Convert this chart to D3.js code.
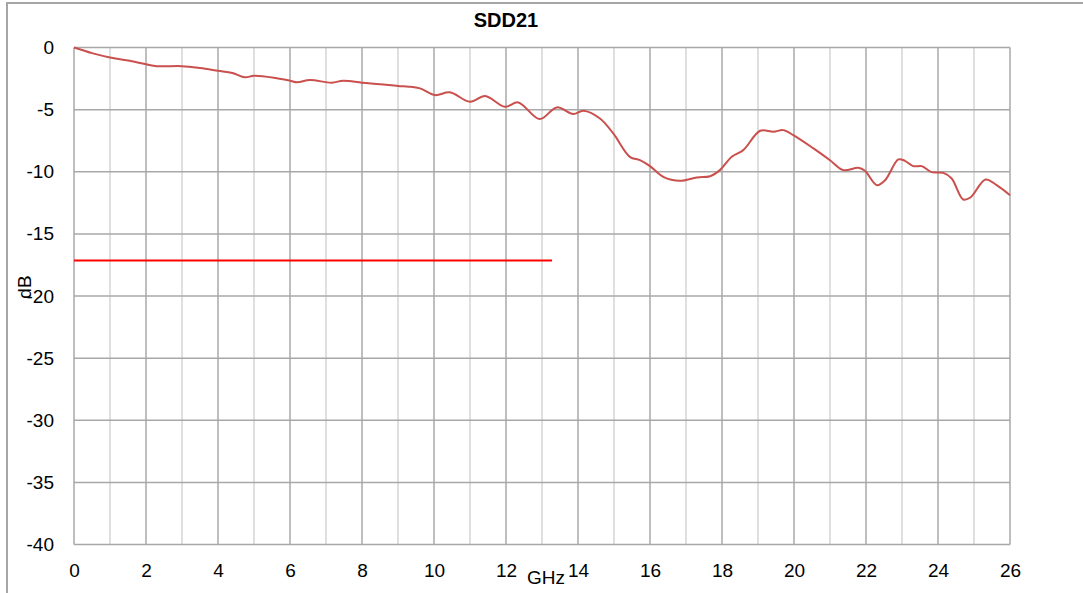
<!DOCTYPE html>
<html>
<head>
<meta charset="utf-8">
<script src="https://cdn.jsdelivr.net/npm/d3@7"></script>
<style>
  body { margin: 0; background: #fff; }
  text { font-family: "Liberation Sans", Arial, sans-serif; fill: #000; }
</style>
</head>
<body>
<svg id="chart" width="1083" height="593"></svg>
<script>
// SDD21 curve (GHz / dB)
var freq = [0, 0.5, 1, 1.5, 2, 2.3, 3, 3.5, 4, 4.4, 4.75, 5, 5.6, 6, 6.2, 6.55, 7.16, 7.48, 8, 8.5, 9, 9.3, 9.61,
  10.03, 10.44, 11, 11.42, 11.97, 12.34, 12.94, 13.41, 13.87, 14.15, 14.61, 14.98, 15.44, 15.72, 16.0, 16.37,
  16.83, 17.3, 17.67, 17.94, 18.27, 18.59, 19.06, 19.43, 19.7, 19.98, 20.54, 21.0, 21.37, 21.79, 21.97, 22.3,
  22.53, 22.9, 23.08, 23.31, 23.55, 23.82, 24.15, 24.38, 24.7, 24.9, 25.32, 25.63, 26];
var sdd21 = [0, -0.45, -0.8, -1.05, -1.35, -1.5, -1.5, -1.65, -1.87, -2.05, -2.4, -2.27, -2.45, -2.67, -2.8, -2.62,
  -2.83, -2.67, -2.83, -2.95, -3.1, -3.15, -3.29, -3.83, -3.61, -4.37, -3.91, -4.77, -4.42, -5.76, -4.82,
  -5.36, -5.09, -5.71, -6.92, -8.8, -9.07, -9.55, -10.41, -10.73, -10.46, -10.36, -9.87, -8.8, -8.26, -6.7,
  -6.78, -6.65, -7.05, -8.12, -9.07, -9.87, -9.68, -9.92, -11.08, -10.68, -9.01, -9.12, -9.55, -9.55, -10.03,
  -10.09, -10.54, -12.23, -12.07, -10.62, -11.08, -11.89];

// limit line
var limitFreq = [0, 13.28];
var limitDb = [-17.15, -17.15];

var xTicks = d3.range(0, 27, 2);
var xMinor = d3.range(1, 26, 2);
var yTicks = d3.range(0, -45, -5);

var svg = d3.select('#chart');
var plotL = 74, plotR = 1010, plotT = 47.5, plotB = 544.5;
var FONT = '"Liberation Sans", Arial, sans-serif';

var x = d3.scaleLinear().domain([0, 26]).range([plotL, plotR]);
var y = d3.scaleLinear().domain([0, -40]).range([plotT, plotB]);

// plain hyphen minus like the original, not d3's unicode minus
var plainFmt = function(d) { return String(d); };

// outer frame
svg.append('rect')
  .attr('x', 7).attr('y', 3).attr('width', 1100).attr('height', 620)
  .attr('fill', 'none').attr('stroke', '#a6a6a6').attr('stroke-width', 2);

// minor vertical grid
svg.append('g').selectAll('line').data(xMinor).enter().append('line')
  .attr('x1', function(d) { return x(d); }).attr('x2', function(d) { return x(d); })
  .attr('y1', plotT).attr('y2', plotB)
  .attr('stroke', '#d4d4d4').attr('stroke-width', 1.5);

// major vertical grid
svg.append('g').selectAll('line').data(xTicks).enter().append('line')
  .attr('x1', function(d) { return x(d); }).attr('x2', function(d) { return x(d); })
  .attr('y1', plotT).attr('y2', plotB)
  .attr('stroke', '#a8a8a8').attr('stroke-width', 1.5);

// horizontal grid
svg.append('g').selectAll('line').data(yTicks).enter().append('line')
  .attr('x1', plotL).attr('x2', plotR)
  .attr('y1', function(d) { return y(d); }).attr('y2', function(d) { return y(d); })
  .attr('stroke', '#a8a8a8').attr('stroke-width', 1.5);

// tick labels via d3 axes, no domain / tick lines
var xAxis = svg.append('g').attr('transform', 'translate(0,' + plotB + ')')
  .call(d3.axisBottom(x).tickValues(xTicks).tickSize(0).tickPadding(19).tickFormat(plainFmt));
xAxis.select('.domain').remove();
xAxis.attr('font-size', 19).attr('font-family', FONT);
xAxis.selectAll('text').attr('fill', '#000');

var yAxis = svg.append('g').attr('transform', 'translate(' + plotL + ',0)')
  .call(d3.axisLeft(y).tickValues(yTicks).tickSize(0).tickPadding(20).tickFormat(plainFmt));
yAxis.select('.domain').remove();
yAxis.attr('font-size', 19).attr('font-family', FONT);
yAxis.selectAll('text').attr('fill', '#000');

// limit line
var limitLine = d3.line()
  .x(function(d, i) { return x(limitFreq[i]); })
  .y(function(d, i) { return y(limitDb[i]); });
svg.append('path').datum(limitFreq).attr('d', limitLine)
  .attr('fill', 'none').attr('stroke', '#ff0000').attr('stroke-width', 2);

// SDD21 curve
var line = d3.line()
  .x(function(d, i) { return x(freq[i]); })
  .y(function(d, i) { return y(sdd21[i]); })
  .curve(d3.curveCatmullRom.alpha(0.5));
svg.append('path').datum(freq).attr('d', line)
  .attr('fill', 'none').attr('stroke', '#c9504d').attr('stroke-width', 2);

// title
svg.append('text').attr('x', 506).attr('y', 27).attr('text-anchor', 'middle')
  .style('font-size', '20px').style('font-weight', 'bold').text('SDD21');

// axis titles
svg.append('text').attr('x', 546).attr('y', 584).attr('text-anchor', 'middle')
  .style('font-size', '19px').text('GHz');
svg.append('text').attr('transform', 'translate(31,287) rotate(-90)').attr('text-anchor', 'middle')
  .style('font-size', '19px').text('dB');
</script>
</body>
</html>
